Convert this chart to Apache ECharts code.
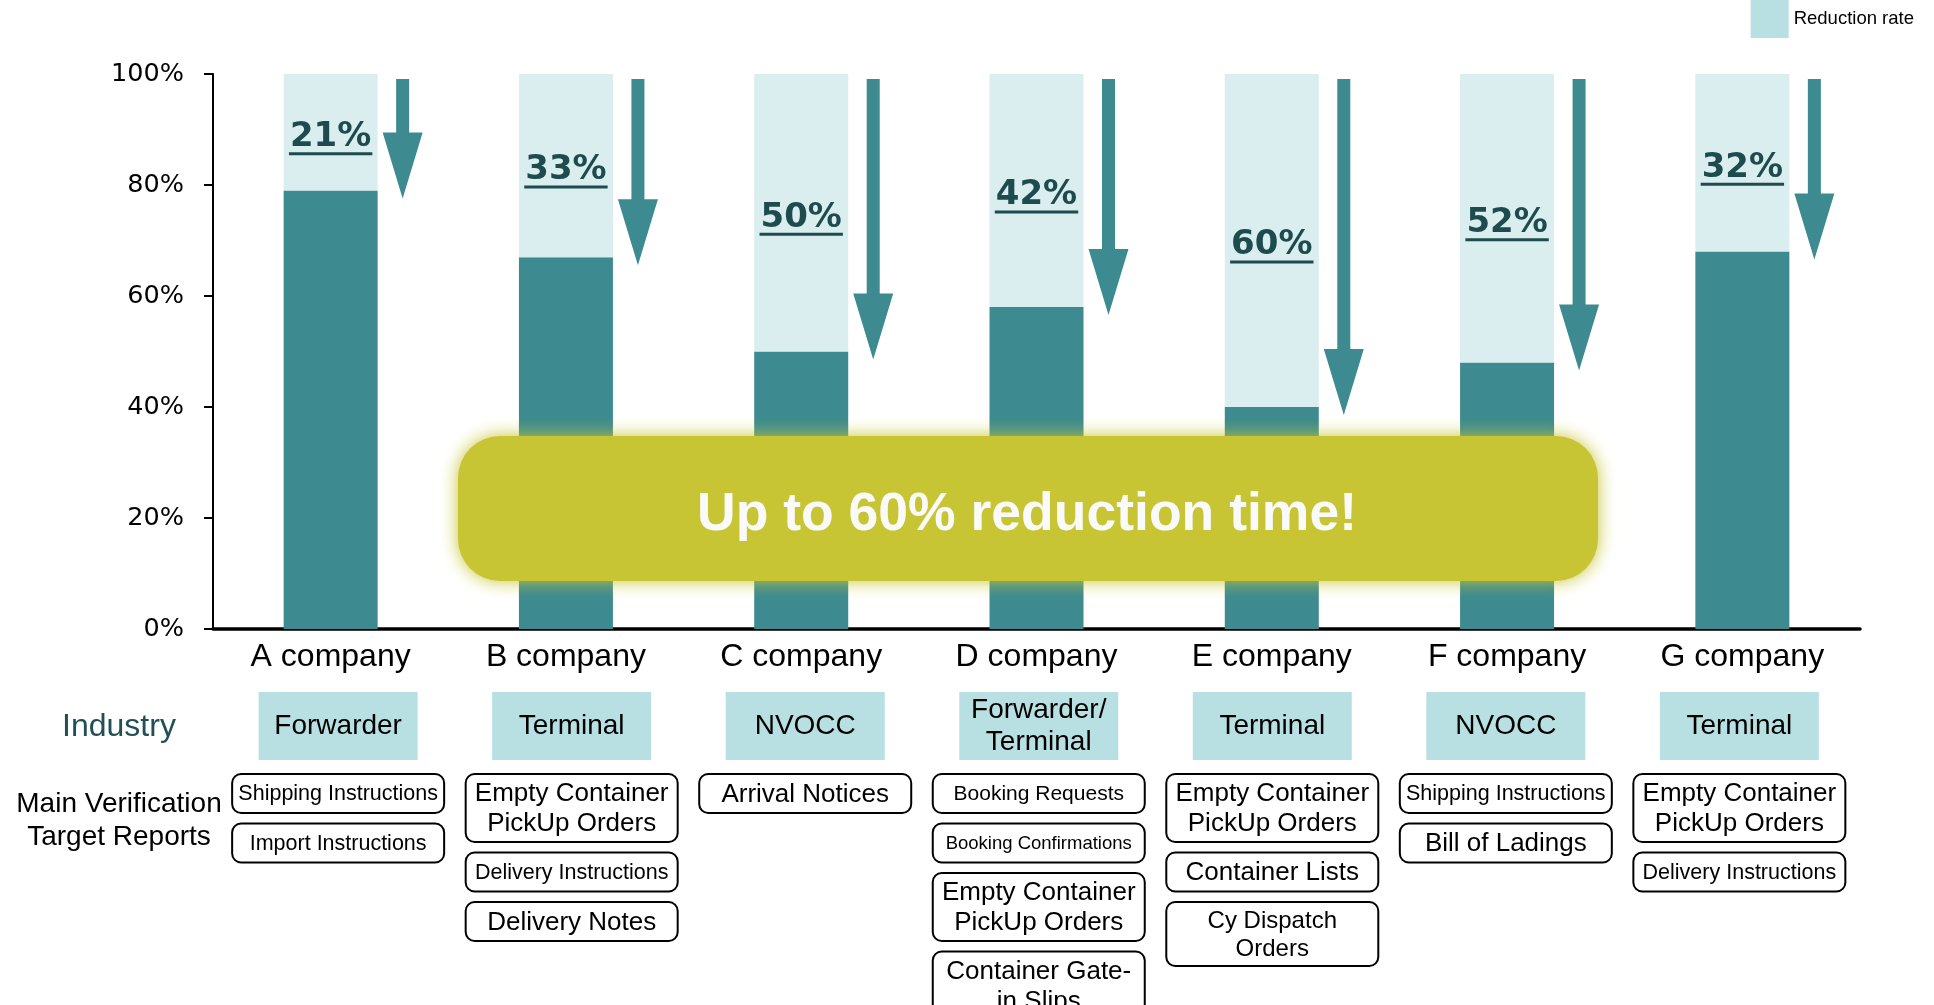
<!DOCTYPE html>
<html>
<head>
<meta charset="utf-8">
<title>Reduction rate by company</title>
<script src="https://cdn.jsdelivr.net/npm/echarts@6/dist/echarts.min.js"></script>
<style>
  html, body { margin: 0; padding: 0; background: #fff; }
  #main { width: 1934px; height: 1005px; }
</style>
</head>
<body>
<div id="main"></div>
<script>
// chart data
const categories = ['A company', 'B company', 'C company', 'D company', 'E company', 'F company', 'G company']
const afterValues = [79, 67, 50, 58, 40, 48, 68] // remaining time (%)
const reductionRates = [21, 33, 50, 42, 60, 52, 32] // reduction rate (%)
const yTicks = [0, 20, 40, 60, 80, 100]
const industries = ['Forwarder', 'Terminal', 'NVOCC', 'Forwarder/\nTerminal', 'Terminal', 'NVOCC', 'Terminal']
const reports = [
  ['Shipping Instructions', 'Import Instructions'],
  ['Empty Container\nPickUp Orders', 'Delivery Instructions', 'Delivery Notes'],
  ['Arrival Notices'],
  ['Booking Requests', 'Booking Confirmations', 'Empty Container\nPickUp Orders', 'Container Gate-\nin Slips'],
  ['Empty Container\nPickUp Orders', 'Container Lists', 'Cy Dispatch\nOrders'],
  ['Shipping Instructions', 'Bill of Ladings'],
  ['Empty Container\nPickUp Orders', 'Delivery Instructions']
]
const bannerText = 'Up to 60% reduction time!'

const DARK = '#3d8b90'
const LIGHT = '#daedef'
const CYAN = '#b8e0e2'
const LABEL = '#1e4c4e'
const SANS = '"Liberation Sans", Arial, sans-serif'
const VERDANA = '"DejaVu Sans", Verdana, sans-serif'

// smaller text in some report boxes
const reportFont = {
  'Shipping Instructions': 21.5,
  'Import Instructions': 21.5,
  'Delivery Instructions': 21.5,
  'Booking Requests': 21,
  'Booking Confirmations': 18.5,
  'Cy Dispatch\nOrders': 24
}

const measureCtx = document.createElement('canvas').getContext('2d')
function textWidth(txt, font) {
  measureCtx.font = font
  return measureCtx.measureText(txt).width
}

// arrow next to each bar, from the top down to just below the remaining value
function renderArrow(params, api) {
  const i = api.value(0)
  const top = api.coord([i, 100])
  const end = api.coord([i, api.value(1)])
  const x = top[0] + 72
  const yTop = top[1] + 5
  const yTip = end[1] + 8
  const yHead = yTip - 66
  const sw = 6.5 // half shaft width
  const hw = 20 // half head width
  return {
    type: 'polygon',
    shape: {
      points: [[x - sw, yTop], [x + sw, yTop], [x + sw, yHead], [x + hw, yHead], [x, yTip], [x - hw, yHead], [x - sw, yHead]]
    },
    style: { fill: DARK }
  }
}

// underlined reduction label in the middle of the light segment
function renderRateLabel(params, api) {
  const i = api.value(0)
  const rate = api.value(2)
  const p = api.coord([i, api.value(1) + rate / 2])
  const font = 'bold 34px ' + VERDANA
  const txt = rate + '%'
  const w = textWidth(txt, font)
  const y = p[1] + 5
  return {
    type: 'group',
    children: [
      {
        type: 'text',
        style: {
          text: txt, x: p[0], y: y, font: font, fill: LABEL,
          align: 'center', verticalAlign: 'middle', textAlign: 'center', textVerticalAlign: 'middle'
        }
      },
      {
        type: 'rect',
        shape: { x: p[0] - w / 2 - 1, y: y + 15, width: w + 2, height: 3 },
        style: { fill: LABEL }
      }
    ]
  }
}

// industry box + report boxes under each category
function renderTable(params, api) {
  const i = api.value(0)
  const base = api.coord([i, 0])
  const cx = base[0] + 7.5 - 1.75 * i // the boxes sit a little tighter than the bars
  const children = [
    {
      type: 'rect',
      shape: { x: cx - 79.5, y: base[1] + 63, width: 159, height: 68 },
      style: { fill: CYAN }
    },
    {
      type: 'text',
      style: {
        text: industries[i], x: cx, y: base[1] + 97, font: '28px ' + SANS, fill: '#000', lineHeight: 32,
        align: 'center', verticalAlign: 'middle', textAlign: 'center', textVerticalAlign: 'middle'
      }
    }
  ]
  let y = base[1] + 145
  reports[i].forEach((r) => {
    const fs = reportFont[r] || 26
    const lines = r.split('\n').length
    const lh = fs + 4
    const h = lines === 1 ? 39 : lines * lh + 8
    children.push({
      type: 'rect',
      shape: { x: cx - 106, y: y, width: 212, height: h, r: 9 },
      style: { fill: '#fff', stroke: '#000', lineWidth: 2 }
    })
    children.push({
      type: 'text',
      style: {
        text: r, x: cx, y: y + h / 2 + 1, font: fs + 'px ' + SANS, fill: '#000', lineHeight: lh,
        align: 'center', verticalAlign: 'middle', textAlign: 'center', textVerticalAlign: 'middle'
      }
    })
    y += h + 10.5
  })
  return { type: 'group', children: children }
}

const chart = echarts.init(document.getElementById('main'))

const option = {
  animation: false,
  backgroundColor: '#fff',
  grid: { left: 213, right: 74, top: 74, bottom: 376, containLabel: false },
  legend: {
    right: 20,
    top: 0,
    padding: 0,
    itemWidth: 38,
    itemHeight: 38,
    textStyle: { fontFamily: SANS, fontSize: 18.5, color: '#000' },
    data: [{ name: 'Reduction rate', icon: 'rect', itemStyle: { color: CYAN } }]
  },
  xAxis: {
    type: 'category',
    data: categories,
    axisTick: { show: false },
    axisLine: { lineStyle: { color: '#000', width: 3.5 } },
    axisLabel: { fontFamily: SANS, fontSize: 32, color: '#000', margin: 12, interval: 0 }
  },
  yAxis: {
    type: 'value',
    min: yTicks[0],
    max: yTicks[yTicks.length - 1],
    interval: yTicks[1] - yTicks[0],
    splitLine: { show: false },
    axisLine: { show: true, lineStyle: { color: '#000', width: 2 } },
    axisTick: { show: true, length: 9, lineStyle: { color: '#000', width: 2 } },
    axisLabel: { formatter: '{value}%', fontFamily: VERDANA, fontSize: 25.5, color: '#000', margin: 29 }
  },
  series: [
    {
      name: 'Remaining',
      type: 'bar',
      stack: 'time',
      barWidth: 94,
      itemStyle: { color: DARK },
      data: afterValues
    },
    {
      name: 'Reduction rate',
      type: 'bar',
      stack: 'time',
      barWidth: 94,
      itemStyle: { color: LIGHT },
      data: reductionRates
    },
    {
      name: 'arrows',
      type: 'custom',
      renderItem: renderArrow,
      clip: false,
      z: 5,
      data: afterValues.map((v, i) => [i, v])
    },
    {
      name: 'rateLabels',
      type: 'custom',
      renderItem: renderRateLabel,
      clip: false,
      z: 6,
      data: afterValues.map((v, i) => [i, v, reductionRates[i]])
    },
    {
      name: 'tables',
      type: 'custom',
      renderItem: renderTable,
      clip: false,
      z: 6,
      data: categories.map((c, i) => [i, 0])
    }
  ],
  graphic: [
    {
      type: 'rect',
      z: 100,
      shape: { x: 458, y: 436, width: 1140, height: 145, r: 42 },
      style: { fill: '#c8c535', shadowBlur: 18, shadowColor: '#c8c535' }
    },
    {
      type: 'text',
      z: 101,
      style: {
        text: bannerText, x: 1027, y: 515, font: 'bold 53.5px ' + SANS, fill: '#fafafa',
        align: 'center', verticalAlign: 'middle', textAlign: 'center', textVerticalAlign: 'middle'
      }
    },
    {
      type: 'text',
      style: {
        text: 'Industry', x: 119, y: 727, font: '32px ' + SANS, fill: '#214f55',
        align: 'center', verticalAlign: 'middle', textAlign: 'center', textVerticalAlign: 'middle'
      }
    },
    {
      type: 'text',
      style: {
        text: 'Main Verification\nTarget Reports', x: 119, y: 821, font: '28px ' + SANS, fill: '#000', lineHeight: 33,
        align: 'center', verticalAlign: 'middle', textAlign: 'center', textVerticalAlign: 'middle'
      }
    }
  ]
}

chart.setOption(option)
window.addEventListener('resize', () => chart.resize())
</script>
</body>
</html>
